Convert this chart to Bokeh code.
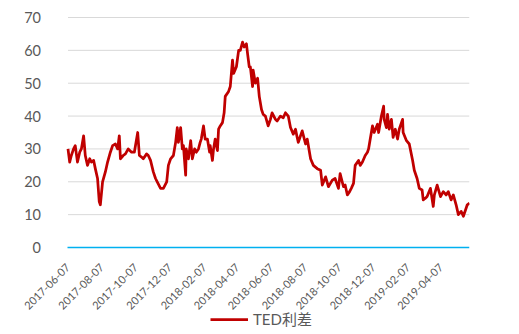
from math import pi
import pandas as pd
from bokeh.plotting import figure
from bokeh.models import (ColumnDataSource, Range1d, FixedTicker, DatetimeTickFormatter,
                          Legend, LegendItem)
from bokeh.core.properties import value
from bokeh.embed import file_html
from bokeh.resources import INLINE

dates = [
    "2017-06-07", "2017-06-10", "2017-06-13", "2017-06-17", "2017-06-20", "2017-06-24", "2017-06-28",
    "2017-07-01", "2017-07-05", "2017-07-08", "2017-07-12", "2017-07-16", "2017-07-19", "2017-07-23",
    "2017-07-26", "2017-07-30", "2017-08-02", "2017-08-04", "2017-08-08", "2017-08-13", "2017-08-17",
    "2017-08-22", "2017-08-26", "2017-08-31", "2017-09-04", "2017-09-07", "2017-09-09", "2017-09-14",
    "2017-09-18", "2017-09-23", "2017-09-29", "2017-10-04", "2017-10-10", "2017-10-13", "2017-10-17",
    "2017-10-20", "2017-10-26", "2017-10-29", "2017-11-02", "2017-11-07", "2017-11-11", "2017-11-14",
    "2017-11-20", "2017-11-25", "2017-12-01", "2017-12-04", "2017-12-08", "2017-12-13", "2017-12-17",
    "2017-12-20", "2017-12-22", "2017-12-26", "2017-12-29", "2017-12-31", "2018-01-04", "2018-01-05",
    "2018-01-09", "2018-01-13", "2018-01-16", "2018-01-20", "2018-01-23", "2018-01-27", "2018-01-30",
    "2018-02-01", "2018-02-05", "2018-02-08", "2018-02-12", "2018-02-16", "2018-02-17", "2018-02-21",
    "2018-02-23", "2018-02-26", "2018-03-02", "2018-03-04", "2018-03-07", "2018-03-11", "2018-03-14",
    "2018-03-16", "2018-03-22", "2018-03-25", "2018-03-29", "2018-03-31", "2018-04-05", "2018-04-09",
    "2018-04-12", "2018-04-16", "2018-04-19", "2018-04-23", "2018-04-25", "2018-04-28", "2018-04-30",
    "2018-05-04", "2018-05-05", "2018-05-09", "2018-05-13", "2018-05-16", "2018-05-20", "2018-05-23",
    "2018-05-27", "2018-06-01", "2018-06-05", "2018-06-08", "2018-06-14", "2018-06-17", "2018-06-23",
    "2018-06-28", "2018-07-02", "2018-07-07", "2018-07-11", "2018-07-16", "2018-07-20", "2018-07-23",
    "2018-07-25", "2018-07-29", "2018-08-01", "2018-08-07", "2018-08-10", "2018-08-16", "2018-08-21",
    "2018-08-28", "2018-09-03", "2018-09-06", "2018-09-12", "2018-09-17", "2018-09-24", "2018-09-29",
    "2018-10-05", "2018-10-08", "2018-10-14", "2018-10-17", "2018-10-21", "2018-10-25", "2018-10-28",
    "2018-11-01", "2018-11-04", "2018-11-10", "2018-11-13", "2018-11-17", "2018-11-22", "2018-11-26",
    "2018-11-28", "2018-12-01", "2018-12-05", "2018-12-08", "2018-12-14", "2018-12-16", "2018-12-21",
    "2018-12-25", "2018-12-26", "2018-12-30", "2019-01-01", "2019-01-04", "2019-01-08", "2019-01-11",
    "2019-01-15", "2019-01-19", "2019-01-22", "2019-01-28", "2019-01-29", "2019-02-04", "2019-02-09",
    "2019-02-15", "2019-02-18", "2019-02-23", "2019-02-27", "2019-03-04", "2019-03-06", "2019-03-10",
    "2019-03-13", "2019-03-19", "2019-03-24", "2019-03-26", "2019-03-31", "2019-04-06", "2019-04-11",
    "2019-04-16", "2019-04-20", "2019-04-25", "2019-04-29", "2019-05-04", "2019-05-08", "2019-05-13",
    "2019-05-17", "2019-05-21", "2019-05-24", "2019-05-28",
]

ted_spread = [
    30, 26, 28, 30, 31, 26, 29,
    30, 34, 28, 25, 27, 26, 26.5,
    24, 21, 14, 13, 20, 23, 26,
    29, 31, 31.5, 30, 34, 27, 28,
    28.5, 30, 29, 29, 35, 28, 27.5,
    27, 28.5, 28, 26.5, 23, 21, 20,
    18, 18, 20, 25, 27, 28, 32,
    36.5, 32, 36.5, 30, 31, 22, 30,
    27, 32.5, 27, 30, 29, 30, 32,
    33, 37, 33, 33, 29, 31, 26.5,
    30, 33, 29.5, 36, 37, 38, 41,
    46, 47.5, 49, 57, 53, 55, 60,
    60, 62.5, 61, 62, 59, 55, 55,
    49, 54, 50, 51.5, 46, 42, 40.5,
    40, 37, 39, 41, 39, 38.5, 40,
    39.5, 41, 40, 36.5, 34.5, 36, 33.5,
    32, 34, 35.5, 31.5, 33, 27, 25,
    24, 23.5, 19, 21.5, 18.5, 20.5, 21,
    18, 22.5, 18.5, 19, 16, 17, 18,
    19.5, 25, 26.5, 25, 26, 28, 29,
    30, 33, 37, 35, 37.5, 35, 40,
    43, 39, 36.5, 40.5, 36, 39, 33.5,
    36, 33, 36, 39, 35, 32.5, 31.5,
    26.5, 23.5, 21, 18, 17.5, 14.5, 15,
    15.5, 18, 12.5, 16, 19, 15.5, 17,
    16, 17, 14.5, 16, 13, 10, 11,
    9.5, 11.5, 13, 13.5,
]

tick_labels = ["2017-06-07", "2017-08-07", "2017-10-07", "2017-12-07", "2018-02-07", "2018-04-07",
               "2018-06-07", "2018-08-07", "2018-10-07", "2018-12-07", "2019-02-07", "2019-04-07"]
y_ticks = [0, 10, 20, 30, 40, 50, 60, 70]
series_name = "TED利差"

FONT = "Lato, 'Noto Sans CJK SC', sans-serif"
TEXT = "#595959"

# ---- layout (screen pixels) ----
W, H = 519, 334
FRAME_L, FRAME_T, FRAME_B = 10, 3, 330      # frame wider than the plot area so labels are not clipped
AREA_L, AREA_R = 67.5, 469                 # plot area: first and last date
Y70, Y0 = 17, 247                          # screen rows of values 70 and 0


def ms(ts):
    return float(pd.Timestamp(ts).value // 10**6)


x = pd.to_datetime(dates)
first, last = x[0], x[-1]
px_per_day = (AREA_R - AREA_L) / ((last - first) / pd.Timedelta(days=1))
x_start_ms = ms(first) - (AREA_L - FRAME_L) / px_per_day * 86400000.0
px_per_unit = (Y0 - Y70) / 70.0
y_low = -(FRAME_B - Y0) / px_per_unit
y_high = 70 + (Y70 - FRAME_T) / px_per_unit

src = ColumnDataSource(dict(x=x, y=ted_spread))
n_grid = len(y_ticks) - 1
grid_src = ColumnDataSource(dict(x0=[first] * n_grid, x1=[last] * n_grid, y=y_ticks[1:]))

p = figure(width=W, height=H,
           x_axis_type="datetime", output_backend="svg", toolbar_location=None,
           x_range=Range1d(x_start_ms, ms(last)),
           y_range=Range1d(y_low, y_high),
           min_border_left=FRAME_L, min_border_right=int(W - AREA_R), min_border_top=FRAME_T,
           min_border_bottom=H - FRAME_B)
p.outline_line_color = None
p.background_fill_color = None
p.border_fill_color = None
p.xgrid.visible = False
p.ygrid.visible = False

# horizontal gridlines on the data scale, from the first to the last date
p.segment(x0="x0", y0="y", x1="x1", y1="y", source=grid_src, line_color="#D9D9D9", line_width=1)

r = p.line("x", "y", source=src, line_color="#C00000", line_width=2.75, line_join="round")

p.xaxis.fixed_location = 0
p.xaxis.bounds = (ms(first) - 43200000.0, ms(last))
p.xaxis.ticker = FixedTicker(ticks=[ms(t) for t in tick_labels])
fmt = "%Y-%m-%d"
p.xaxis.formatter = DatetimeTickFormatter(days=fmt, months=fmt, years=fmt, hours=fmt,
                                          hourmin=fmt, minutes=fmt, minsec=fmt, seconds=fmt,
                                          milliseconds=fmt, microseconds=fmt)
p.xaxis.major_label_orientation = pi / 4
p.xaxis.major_tick_line_color = None
p.xaxis.minor_tick_line_color = None
p.xaxis.axis_line_color = "#00B0F0"
p.xaxis.axis_line_width = 1.5
p.xaxis.major_label_text_font = FONT
p.xaxis.major_label_text_font_size = "11px"
p.xaxis.major_label_text_color = TEXT
p.xaxis.major_label_standoff = 12

p.yaxis.fixed_location = ms(first)
p.yaxis.ticker = FixedTicker(ticks=y_ticks)
p.yaxis.axis_line_color = None
p.yaxis.major_tick_line_color = None
p.yaxis.minor_tick_line_color = None
p.yaxis.major_label_text_font = FONT
p.yaxis.major_label_text_font_size = "14.5px"
p.yaxis.major_label_text_color = TEXT
p.yaxis.major_label_standoff = 21

legend = Legend(items=[LegendItem(label=value(series_name), renderers=[r])],
                location=(200, 1), orientation="horizontal",
                glyph_width=38, glyph_height=20, padding=0, margin=0, label_standoff=5,
                border_line_color=None, background_fill_alpha=0,
                label_text_font=FONT, label_text_font_size="15px", label_text_color=TEXT)
p.add_layout(legend)

open("out.html", "w").write(file_html(p, INLINE))
